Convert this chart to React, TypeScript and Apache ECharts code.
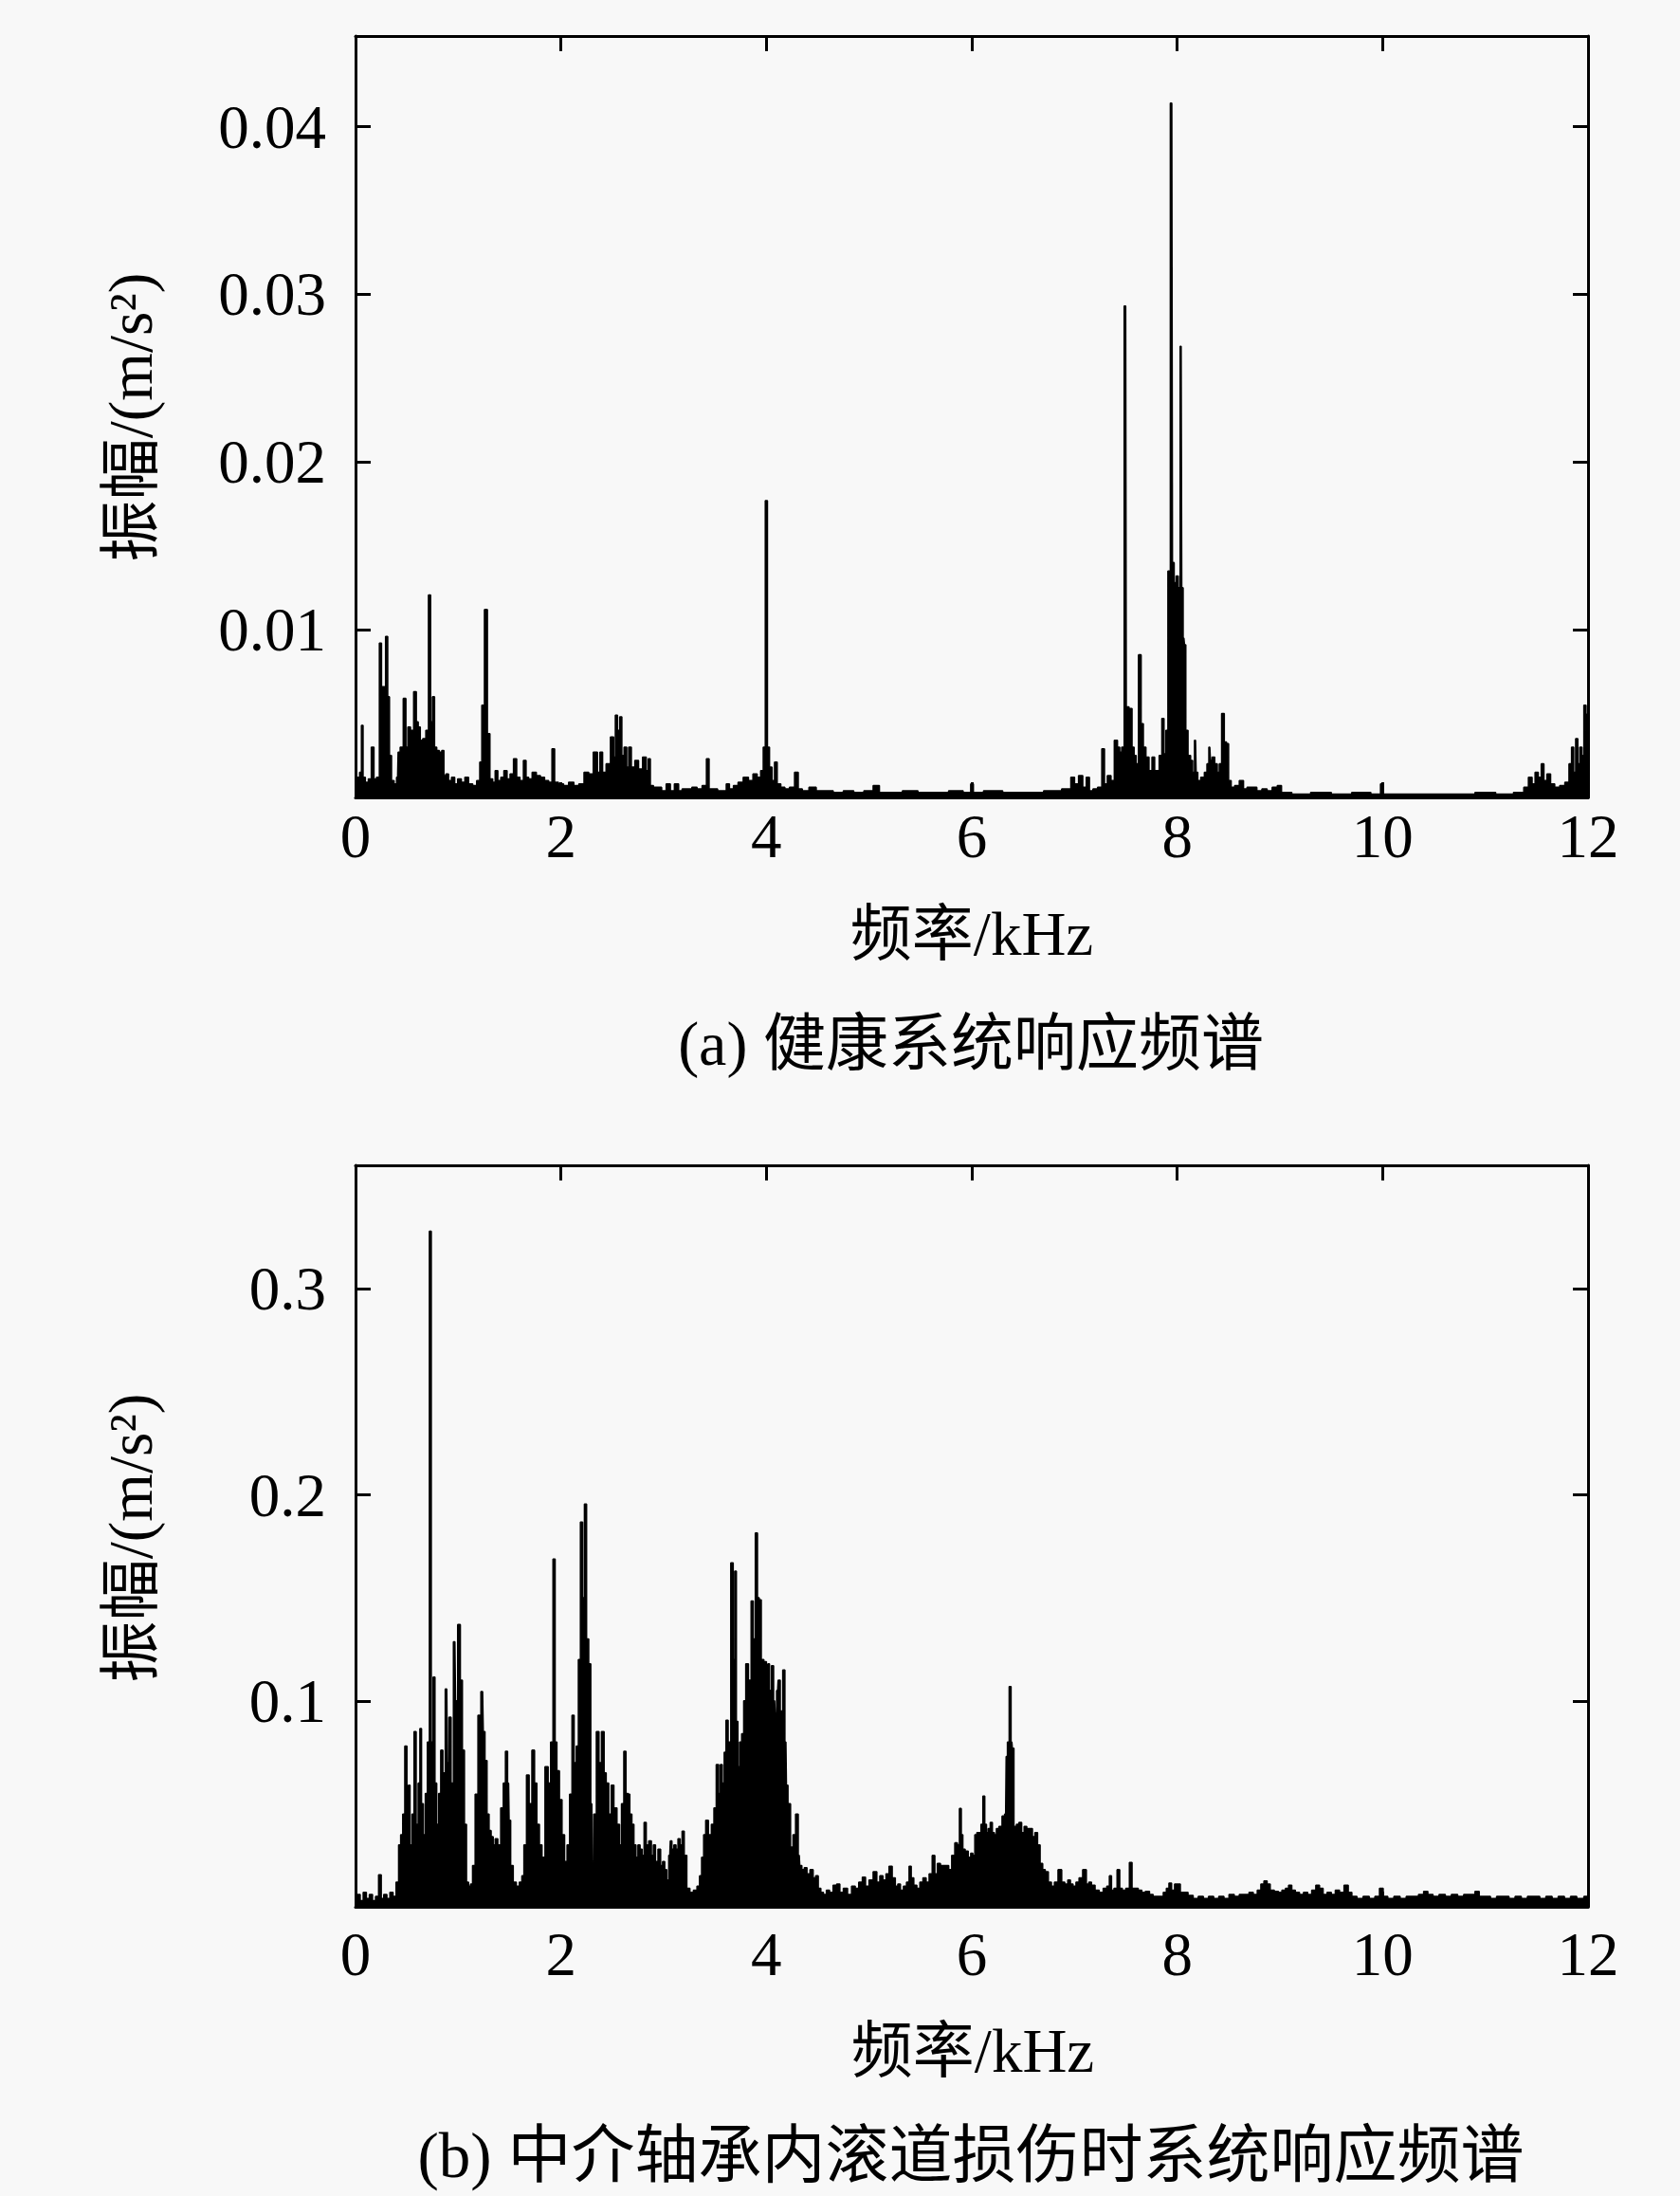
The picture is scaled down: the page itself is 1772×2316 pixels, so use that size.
import React, { useEffect, useRef } from "react";
import * as echarts from "echarts";

const FONT = "'Liberation Serif', 'Times New Roman', 'Noto Sans CJK SC', serif";

const xTickInterval = 2;
const xMin = 0;
const xMax = 12;
const healthyYMax = 0.0454;
const healthyYInterval = 0.01;
const faultYMax = 0.36;
const faultYInterval = 0.1;

const xAxisTitle = "频率/kHz";
const yAxisTitle = "振幅/(m/s²)";
const captionA = "(a) 健康系统响应频谱";
const captionB = "(b) 中介轴承内滚道损伤时系统响应频谱";

// [frequency kHz, amplitude m/s^2] (a)
const healthySpectrum: [number, number][] = [
  [0.0, 0.0008], [0.03, 0.0012], [0.05, 0.0015], [0.066, 0.0043], [0.08, 0.0012],
  [0.11, 0.0009], [0.14, 0.0011], [0.168, 0.003], [0.19, 0.0011], [0.22, 0.0012],
  [0.245, 0.0092], [0.26, 0.0066], [0.28, 0.0066], [0.306, 0.0096], [0.32, 0.006],
  [0.34, 0.0025], [0.36, 0.001], [0.39, 0.0008], [0.41, 0.0012], [0.42, 0.0027],
  [0.45, 0.003], [0.48, 0.0059], [0.5, 0.003], [0.52, 0.0042], [0.55, 0.004],
  [0.583, 0.0063], [0.6, 0.0045], [0.62, 0.0042], [0.64, 0.0034], [0.67, 0.0035],
  [0.7, 0.004], [0.721, 0.01207], [0.74, 0.0045], [0.758, 0.006], [0.78, 0.003],
  [0.8, 0.0028], [0.83, 0.0027], [0.85, 0.0028], [0.87, 0.0013], [0.89, 0.0014],
  [0.92, 0.001], [0.95, 0.0012], [0.98, 0.0008], [1.01, 0.0011], [1.05, 0.0009],
  [1.08, 0.0012], [1.12, 0.0008], [1.16, 0.0007], [1.2, 0.001], [1.22, 0.0021],
  [1.24, 0.0055], [1.271, 0.0112], [1.296, 0.0038], [1.32, 0.0011], [1.35, 0.0009],
  [1.37, 0.0016], [1.4, 0.001], [1.43, 0.0012], [1.46, 0.0016], [1.49, 0.0011],
  [1.52, 0.0014], [1.557, 0.0023], [1.58, 0.0012], [1.62, 0.001], [1.65, 0.0022],
  [1.67, 0.0012], [1.7, 0.0011], [1.74, 0.0015], [1.78, 0.0013], [1.82, 0.0012],
  [1.86, 0.001], [1.9, 0.0009], [1.926, 0.0029], [1.95, 0.0009], [2.0, 0.0008],
  [2.05, 0.0007], [2.1, 0.0009], [2.15, 0.0007], [2.2, 0.0008], [2.25, 0.0015],
  [2.29, 0.0014], [2.34, 0.0027], [2.37, 0.0015], [2.39, 0.0027], [2.42, 0.0015],
  [2.46, 0.002], [2.505, 0.0036], [2.52, 0.0024], [2.54, 0.0049], [2.56, 0.004],
  [2.585, 0.0048], [2.6, 0.0025], [2.63, 0.003], [2.65, 0.0018], [2.67, 0.003],
  [2.7, 0.0018], [2.74, 0.0022], [2.77, 0.0017], [2.82, 0.0024], [2.84, 0.0016],
  [2.86, 0.0023], [2.88, 0.0007], [2.92, 0.0006], [2.96, 0.0006], [3.0, 0.0004],
  [3.05, 0.0008], [3.08, 0.0004], [3.13, 0.0008], [3.16, 0.0004], [3.2, 0.0005],
  [3.25, 0.0005], [3.3, 0.0006], [3.35, 0.0005], [3.4, 0.0007], [3.434, 0.0023],
  [3.45, 0.0005], [3.5, 0.0005], [3.55, 0.0004], [3.6, 0.0004], [3.62, 0.0008],
  [3.66, 0.0005], [3.7, 0.0007], [3.75, 0.0009], [3.8, 0.0012], [3.85, 0.001],
  [3.89, 0.0014], [3.93, 0.0012], [3.96, 0.0016], [3.98, 0.003], [4.0, 0.0177],
  [4.02, 0.003], [4.04, 0.0018], [4.07, 0.001], [4.09, 0.0021], [4.12, 0.0008],
  [4.16, 0.0006], [4.2, 0.0005], [4.25, 0.0006], [4.3, 0.0015], [4.32, 0.0005],
  [4.38, 0.0004], [4.45, 0.0006], [4.52, 0.0004], [4.6, 0.0004], [4.7, 0.0003],
  [4.8, 0.0004], [4.9, 0.0003], [5.0, 0.0004], [5.08, 0.0007], [5.12, 0.0003],
  [5.25, 0.0003], [5.4, 0.0004], [5.55, 0.0003], [5.7, 0.0003], [5.85, 0.0004],
  [5.98, 0.0003], [6.0, 0.0008], [6.03, 0.0003], [6.2, 0.0004], [6.4, 0.0003],
  [6.6, 0.0003], [6.8, 0.0004], [6.95, 0.0005], [6.98, 0.0012], [7.02, 0.0008],
  [7.06, 0.0013], [7.1, 0.0006], [7.13, 0.0012], [7.16, 0.0004], [7.2, 0.0005],
  [7.25, 0.0006], [7.283, 0.0029], [7.3, 0.0008], [7.34, 0.0013], [7.37, 0.001],
  [7.406, 0.0034], [7.43, 0.003], [7.45, 0.0027], [7.47, 0.003], [7.498, 0.0293],
  [7.51, 0.0054], [7.55, 0.0053], [7.57, 0.003], [7.59, 0.0025], [7.61, 0.002],
  [7.637, 0.0085], [7.66, 0.0044], [7.68, 0.003], [7.71, 0.0024], [7.74, 0.0016],
  [7.77, 0.0024], [7.79, 0.0016], [7.81, 0.0016], [7.84, 0.0025], [7.862, 0.0047],
  [7.88, 0.0026], [7.9, 0.004], [7.92, 0.0135], [7.947, 0.0414], [7.96, 0.014],
  [7.98, 0.0128], [8.0, 0.0132], [8.02, 0.0125], [8.038, 0.0269], [8.05, 0.0125],
  [8.065, 0.0095], [8.077, 0.0091], [8.09, 0.004], [8.12, 0.0025], [8.14, 0.0022],
  [8.16, 0.0015], [8.178, 0.0034], [8.19, 0.0015], [8.21, 0.001], [8.25, 0.0012],
  [8.28, 0.0015], [8.3, 0.002], [8.317, 0.003], [8.33, 0.0022], [8.35, 0.0024],
  [8.38, 0.002], [8.4, 0.0015], [8.42, 0.002], [8.446, 0.005], [8.47, 0.0033],
  [8.49, 0.0032], [8.51, 0.001], [8.54, 0.0006], [8.58, 0.0007], [8.63, 0.001],
  [8.66, 0.0005], [8.7, 0.0006], [8.75, 0.0006], [8.8, 0.0004], [8.85, 0.0005],
  [8.9, 0.0004], [8.95, 0.0006], [9.0, 0.0007], [9.03, 0.0003], [9.2, 0.0002],
  [9.4, 0.0003], [9.6, 0.0002], [9.8, 0.0003], [9.97, 0.0002], [9.99, 0.0008],
  [10.01, 0.0002], [10.2, 0.0002], [10.5, 0.0002], [10.8, 0.0002], [11.0, 0.0003],
  [11.2, 0.0002], [11.35, 0.0003], [11.4, 0.0006], [11.44, 0.0012], [11.47, 0.0008],
  [11.5, 0.0015], [11.53, 0.0012], [11.56, 0.002], [11.58, 0.001], [11.62, 0.0014],
  [11.65, 0.0008], [11.7, 0.0006], [11.75, 0.0007], [11.8, 0.0009], [11.83, 0.002],
  [11.85, 0.003], [11.87, 0.0015], [11.89, 0.0035], [11.91, 0.002], [11.93, 0.003],
  [11.95, 0.0025], [11.97, 0.0055], [11.99, 0.004], [12.0, 0.005],
];

// [frequency kHz, amplitude m/s^2] (b)
const faultSpectrum: [number, number][] = [
  [0.0, 0.003], [0.03, 0.006], [0.06, 0.003], [0.09, 0.007], [0.12, 0.004],
  [0.15, 0.006], [0.18, 0.003], [0.21, 0.005], [0.24, 0.0155], [0.26, 0.004],
  [0.29, 0.006], [0.32, 0.004], [0.35, 0.007], [0.38, 0.005], [0.41, 0.012],
  [0.43, 0.03], [0.45, 0.035], [0.47, 0.045], [0.49, 0.078], [0.51, 0.055],
  [0.52, 0.059], [0.54, 0.03], [0.56, 0.045], [0.58, 0.085], [0.6, 0.04],
  [0.62, 0.06], [0.634, 0.0865], [0.65, 0.05], [0.67, 0.035], [0.69, 0.055],
  [0.71, 0.08], [0.729, 0.328], [0.745, 0.08], [0.766, 0.1115], [0.78, 0.06],
  [0.8, 0.04], [0.82, 0.055], [0.84, 0.076], [0.86, 0.065], [0.888, 0.1057],
  [0.9, 0.07], [0.92, 0.092], [0.94, 0.06], [0.967, 0.1287], [0.98, 0.1],
  [1.01, 0.137], [1.03, 0.11], [1.05, 0.076], [1.07, 0.04], [1.09, 0.012],
  [1.11, 0.01], [1.13, 0.011], [1.15, 0.02], [1.18, 0.0547], [1.205, 0.093],
  [1.237, 0.1045], [1.25, 0.085], [1.27, 0.071], [1.29, 0.045], [1.31, 0.037],
  [1.33, 0.034], [1.35, 0.03], [1.37, 0.033], [1.4, 0.03], [1.428, 0.048],
  [1.45, 0.06], [1.47, 0.0755], [1.49, 0.06], [1.5, 0.042], [1.52, 0.02],
  [1.55, 0.012], [1.58, 0.01], [1.61, 0.012], [1.63, 0.015], [1.65, 0.03],
  [1.68, 0.064], [1.7, 0.05], [1.735, 0.076], [1.75, 0.06], [1.78, 0.04],
  [1.8, 0.03], [1.83, 0.024], [1.86, 0.068], [1.89, 0.06], [1.91, 0.08],
  [1.936, 0.1688], [1.95, 0.08], [1.97, 0.066], [2.0, 0.052], [2.02, 0.035],
  [2.05, 0.022], [2.07, 0.03], [2.1, 0.0547], [2.116, 0.093], [2.14, 0.07],
  [2.16, 0.078], [2.18, 0.12], [2.2, 0.1868], [2.22, 0.15], [2.238, 0.1955],
  [2.26, 0.13], [2.28, 0.118], [2.3, 0.05], [2.31, 0.022], [2.33, 0.045],
  [2.36, 0.085], [2.38, 0.07], [2.41, 0.085], [2.43, 0.065], [2.45, 0.06],
  [2.48, 0.045], [2.5, 0.059], [2.53, 0.048], [2.56, 0.04], [2.58, 0.03],
  [2.6, 0.05], [2.625, 0.0755], [2.64, 0.055], [2.66, 0.0547], [2.68, 0.045],
  [2.7, 0.04], [2.72, 0.03], [2.74, 0.024], [2.76, 0.03], [2.78, 0.028],
  [2.8, 0.025], [2.82, 0.041], [2.84, 0.03], [2.87, 0.032], [2.89, 0.025],
  [2.91, 0.03], [2.93, 0.022], [2.96, 0.028], [2.98, 0.02], [3.0, 0.022],
  [3.02, 0.018], [3.04, 0.013], [3.06, 0.025], [3.07, 0.032], [3.09, 0.028],
  [3.11, 0.03], [3.13, 0.028], [3.15, 0.033], [3.17, 0.03], [3.19, 0.0367],
  [3.21, 0.025], [3.24, 0.009], [3.27, 0.007], [3.31, 0.008], [3.34, 0.01],
  [3.36, 0.015], [3.38, 0.024], [3.4, 0.035], [3.42, 0.042], [3.45, 0.035],
  [3.48, 0.04], [3.5, 0.048], [3.525, 0.069], [3.545, 0.055], [3.56, 0.069],
  [3.58, 0.06], [3.6, 0.075], [3.615, 0.0906], [3.64, 0.08], [3.668, 0.167],
  [3.685, 0.12], [3.7, 0.163], [3.715, 0.09], [3.73, 0.068], [3.75, 0.08],
  [3.77, 0.084], [3.79, 0.1], [3.81, 0.118], [3.84, 0.11], [3.864, 0.1485],
  [3.88, 0.13], [3.906, 0.1815], [3.92, 0.15], [3.94, 0.149], [3.96, 0.12],
  [3.99, 0.119], [4.01, 0.1], [4.02, 0.118], [4.04, 0.105], [4.06, 0.117],
  [4.08, 0.1], [4.09, 0.094], [4.11, 0.105], [4.12, 0.11], [4.15, 0.095],
  [4.17, 0.115], [4.19, 0.08], [4.2, 0.059], [4.22, 0.05], [4.25, 0.029],
  [4.27, 0.035], [4.3, 0.045], [4.32, 0.025], [4.33, 0.02], [4.36, 0.018],
  [4.38, 0.019], [4.41, 0.016], [4.44, 0.018], [4.47, 0.014], [4.49, 0.015],
  [4.52, 0.009], [4.54, 0.007], [4.57, 0.006], [4.6, 0.008], [4.63, 0.007],
  [4.67, 0.0105], [4.7, 0.011], [4.73, 0.007], [4.77, 0.009], [4.81, 0.006],
  [4.85, 0.01], [4.88, 0.009], [4.92, 0.012], [4.95, 0.0144], [4.98, 0.01],
  [5.02, 0.013], [5.06, 0.017], [5.09, 0.012], [5.12, 0.015], [5.15, 0.013],
  [5.18, 0.016], [5.21, 0.0197], [5.24, 0.014], [5.27, 0.01], [5.29, 0.011],
  [5.32, 0.008], [5.35, 0.01], [5.38, 0.012], [5.4, 0.0197], [5.42, 0.014],
  [5.45, 0.0105], [5.48, 0.009], [5.51, 0.012], [5.54, 0.014], [5.57, 0.012],
  [5.6, 0.016], [5.63, 0.0249], [5.65, 0.016], [5.68, 0.021], [5.71, 0.02],
  [5.74, 0.02], [5.76, 0.02], [5.79, 0.018], [5.82, 0.025], [5.85, 0.031],
  [5.87, 0.03], [5.89, 0.0477], [5.905, 0.035], [5.92, 0.028], [5.95, 0.027],
  [5.98, 0.024], [6.0, 0.026], [6.02, 0.025], [6.04, 0.035], [6.06, 0.036],
  [6.08, 0.036], [6.1, 0.04], [6.117, 0.0537], [6.135, 0.04], [6.15, 0.036],
  [6.17, 0.038], [6.19, 0.041], [6.21, 0.036], [6.23, 0.035], [6.25, 0.038],
  [6.28, 0.039], [6.31, 0.044], [6.33, 0.045], [6.34, 0.073], [6.355, 0.08],
  [6.374, 0.1069], [6.39, 0.08], [6.4, 0.077], [6.42, 0.039], [6.45, 0.04],
  [6.47, 0.041], [6.5, 0.036], [6.52, 0.039], [6.55, 0.038], [6.58, 0.038],
  [6.6, 0.034], [6.63, 0.036], [6.65, 0.03], [6.68, 0.021], [6.7, 0.018],
  [6.73, 0.017], [6.76, 0.012], [6.79, 0.01], [6.82, 0.012], [6.86, 0.018],
  [6.89, 0.012], [6.92, 0.011], [6.95, 0.013], [6.97, 0.011], [7.0, 0.01],
  [7.03, 0.012], [7.06, 0.014], [7.1, 0.018], [7.13, 0.011], [7.15, 0.012],
  [7.18, 0.0105], [7.22, 0.008], [7.26, 0.007], [7.3, 0.009], [7.33, 0.01],
  [7.35, 0.015], [7.37, 0.008], [7.4, 0.009], [7.43, 0.018], [7.45, 0.009],
  [7.48, 0.008], [7.52, 0.009], [7.55, 0.0215], [7.57, 0.009], [7.6, 0.009],
  [7.64, 0.008], [7.67, 0.007], [7.71, 0.0075], [7.75, 0.006], [7.78, 0.005],
  [7.81, 0.005], [7.85, 0.005], [7.88, 0.007], [7.91, 0.009], [7.93, 0.0115],
  [7.96, 0.008], [7.99, 0.011], [8.02, 0.011], [8.04, 0.007], [8.08, 0.007],
  [8.13, 0.0055], [8.18, 0.004], [8.23, 0.005], [8.28, 0.004], [8.33, 0.005],
  [8.38, 0.004], [8.43, 0.005], [8.48, 0.004], [8.53, 0.006], [8.58, 0.005],
  [8.63, 0.006], [8.68, 0.006], [8.72, 0.007], [8.76, 0.006], [8.8, 0.008],
  [8.83, 0.011], [8.86, 0.0125], [8.89, 0.011], [8.92, 0.008], [8.97, 0.0075],
  [9.0, 0.007], [9.04, 0.008], [9.07, 0.009], [9.1, 0.0105], [9.13, 0.008],
  [9.17, 0.007], [9.21, 0.006], [9.25, 0.007], [9.29, 0.006], [9.33, 0.008],
  [9.37, 0.0105], [9.4, 0.009], [9.44, 0.006], [9.48, 0.007], [9.52, 0.006],
  [9.56, 0.008], [9.6, 0.007], [9.65, 0.0105], [9.68, 0.007], [9.72, 0.005],
  [9.78, 0.004], [9.84, 0.005], [9.9, 0.004], [9.95, 0.005], [9.99, 0.009],
  [10.02, 0.005], [10.08, 0.004], [10.14, 0.005], [10.2, 0.004], [10.26, 0.005],
  [10.32, 0.005], [10.38, 0.006], [10.42, 0.0075], [10.46, 0.006], [10.52, 0.005],
  [10.58, 0.006], [10.64, 0.005], [10.7, 0.006], [10.76, 0.005], [10.82, 0.006],
  [10.88, 0.006], [10.92, 0.0075], [10.96, 0.005], [11.02, 0.005], [11.08, 0.004],
  [11.14, 0.005], [11.2, 0.005], [11.26, 0.004], [11.32, 0.005], [11.38, 0.004],
  [11.44, 0.005], [11.5, 0.005], [11.56, 0.004], [11.62, 0.005], [11.68, 0.004],
  [11.74, 0.005], [11.8, 0.004], [11.86, 0.005], [11.92, 0.004], [12.0, 0.005],
];

const AXIS_COLOR = "#000";

function makeXAxes(gridIndex: number, labelMargin: number) {
  const base = {
    gridIndex,
    type: "value" as const,
    min: xMin,
    max: xMax,
    interval: xTickInterval,
    splitLine: { show: false },
    axisLine: { show: true, onZero: false, lineStyle: { color: AXIS_COLOR, width: 3 } },
    axisTick: { show: true, inside: true, length: 16, lineStyle: { color: AXIS_COLOR, width: 3 } },
  };
  return [
    {
      ...base,
      position: "bottom",
      axisLabel: { show: true, color: "#000", fontSize: 65, fontFamily: FONT, margin: labelMargin },
    },
    { ...base, position: "top", axisLabel: { show: false } },
  ];
}

function makeYAxes(gridIndex: number, max: number, interval: number, digits: number) {
  const base = {
    gridIndex,
    type: "value" as const,
    min: 0,
    max,
    interval,
    splitLine: { show: false },
    axisLine: { show: true, onZero: false, lineStyle: { color: AXIS_COLOR, width: 3 } },
    axisTick: { show: true, inside: true, length: 16, lineStyle: { color: AXIS_COLOR, width: 3 } },
  };
  const fmt = (v: number) => {
    if (v === 0) return "";
    const r = v / interval;
    if (Math.abs(r - Math.round(r)) > 1e-6) return "";
    return v.toFixed(digits);
  };
  return [
    {
      ...base,
      position: "left",
      axisLabel: {
        show: true,
        color: "#000",
        fontSize: 65,
        fontFamily: FONT,
        margin: 31,
        formatter: fmt,
        showMaxLabel: false,
      },
    },
    { ...base, position: "right", axisLabel: { show: false } },
  ];
}

function textEl(text: string, x: number, y: number, size: number, rotation = 0) {
  return {
    type: "text",
    x,
    y,
    rotation,
    style: {
      text,
      fill: "#000",
      fontSize: size,
      fontFamily: FONT,
      align: "center",
      verticalAlign: "middle",
      textAlign: "center",
      textVerticalAlign: "middle",
    },
  };
}

export default function App() {
  const ref = useRef<HTMLDivElement>(null);
  useEffect(() => {
    if (!ref.current) return;
    const chart = echarts.init(ref.current, null, { renderer: "svg" });
    const lineSeries = (data: [number, number][], axisBase: number) => ({
      type: "line",
      xAxisIndex: axisBase,
      yAxisIndex: axisBase,
      data,
      step: "middle",
      showSymbol: false,
      symbol: "none",
      lineStyle: { color: "#000", width: 1.6 },
      areaStyle: { color: "#000", opacity: 1 },
      itemStyle: { color: "#000" },
      clip: true,
    });
    chart.setOption({
      animation: false,
      backgroundColor: "#f8f8f8",
      grid: [
        { left: 375, width: 1300, top: 38, height: 803, containLabel: false },
        { left: 375, width: 1300, top: 1229, height: 782, containLabel: false },
      ],
      xAxis: [...makeXAxes(0, 8), ...makeXAxes(1, 17)],
      yAxis: [
        ...makeYAxes(0, healthyYMax, healthyYInterval, 2),
        ...makeYAxes(1, faultYMax, faultYInterval, 1),
      ],
      series: [lineSeries(healthySpectrum, 0), lineSeries(faultSpectrum, 2)],
      graphic: [
        textEl(yAxisTitle, 138, 440, 65, Math.PI / 2),
        textEl(xAxisTitle, 1025, 985, 65),
        textEl(captionA, 1024, 1100, 66),
        textEl(yAxisTitle, 138, 1622, 65, Math.PI / 2),
        textEl(xAxisTitle, 1026, 2163, 65),
        textEl(captionB, 1024, 2273, 67),
      ],
    });
    return () => chart.dispose();
  }, []);
  return (
    <div
      ref={ref}
      style={{ position: "absolute", left: 0, top: 0, width: 1772, height: 2316, background: "#f8f8f8" }}
    />
  );
}
